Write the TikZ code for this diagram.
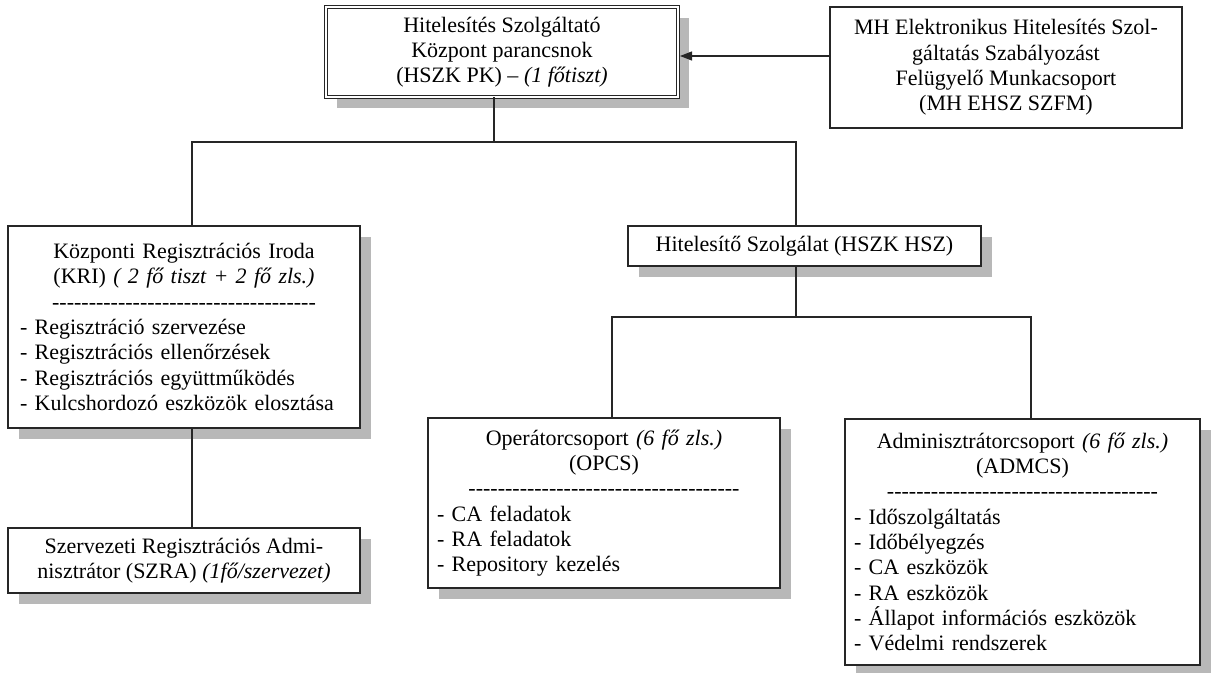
\documentclass[tikz,border=0pt]{standalone}
\usepackage{fontspec}
\setmainfont{Liberation Serif}
\usetikzlibrary{arrows.meta,shadows}
\newcommand\hyphrow[1]{\foreach \i in {1,...,#1}{-\kern0pt}}
\begin{document}
\begin{tikzpicture}[x=1pt,y=-1pt,
  box/.style={draw=black!85, line width=1.1pt, fill=white, inner ysep=0pt, outer sep=0pt,
    font=\fontsize{22}{25.3}\selectfont},
  shbox/.style={box, drop shadow={shadow xshift=11pt, shadow yshift=-11pt, fill=black!28, opacity=1}},
  conn/.style={draw=black!85, line width=1.1pt}]
\useasboundingbox (0,0) rectangle (1215,672);
% coordinates of connector lines
\coordinate (pkx) at (494,142);
\coordinate (krix) at (192,142);
\coordinate (hszx) at (796,142);
\coordinate (hszd) at (796,317);
\coordinate (opcsx) at (612,317);
\coordinate (admx) at (1031,317);
\coordinate (arr) at (760,56);
% boxes
\node[shbox, double, double distance=2.6pt, line width=0.9pt, minimum width=352pt, minimum height=90pt,
  align=center, inner xsep=8pt] (pk) at (502,52)
  {Hitelesítés Szolgáltató\\Központ parancsnok\\(HSZK PK) – \textit{(1 főtiszt)}};
\node[box, minimum width=352pt, minimum height=121pt, align=center] (mh) at (1006,67.5)
  {MH Elektronikus Hitelesítés Szol-\\gáltatás Szabályozást\\Felügyelő Munkacsoport\\(MH EHSZ SZFM)};
\node[shbox, minimum width=352pt, minimum height=202pt, text width=328pt, inner xsep=12pt] (kri) at (184,327)
  {\centering Központi Regisztrációs Iroda\\(KRI) \textit{( 2 fő tiszt + 2 fő zls.)}\\\hyphrow{36}\par
   \raggedright - Regisztráció szervezése\\- Regisztrációs ellenőrzések\\- Regisztrációs együttműködés\\- Kulcshordozó eszközök elosztása\par};
\node[shbox, minimum width=353pt, minimum height=40pt, align=center] (hsz) at (804.5,246)
  {Hitelesítő Szolgálat (HSZK HSZ)};
\node[shbox, minimum width=352pt, minimum height=170pt, text width=334pt, inner xsep=9pt] (opcs) at (604,503)
  {\centering Operátorcsoport \textit{(6 fő zls.)}\\(OPCS)\\\hyphrow{37}\par
   \raggedright - CA feladatok\\- RA feladatok\\- Repository kezelés\par};
\node[shbox, minimum width=355pt, minimum height=246pt, text width=337pt, inner xsep=9pt] (adm) at (1022.5,542)
  {\centering Adminisztrátorcsoport \textit{(6 fő zls.)}\\(ADMCS)\\\hyphrow{37}\par
   \raggedright - Időszolgáltatás\\- Időbélyegzés\\- CA eszközök\\- RA eszközök\\- Állapot információs eszközök\\- Védelmi rendszerek\par};
\node[shbox, minimum width=352pt, minimum height=65pt, align=center] (szra) at (184,560.5)
  {Szervezeti Regisztrációs Admi-\\nisztrátor (SZRA) \textit{(1fő/szervezet)}};
% connectors
\draw[conn] (pk.south -| pkx) -- (pkx);
\draw[conn] (kri.north -| krix) -- (krix) -- (hszx) -- (hsz.north -| hszx);
\draw[conn] (hsz.south -| hszd) -- (hszd);
\draw[conn] (opcs.north -| opcsx) -- (opcsx) -- (admx) -- (adm.north -| admx);
\draw[conn] (kri.south -| krix) -- (szra.north -| krix);
\draw[conn, -{Triangle[length=12pt,width=9pt]}] (mh.west |- arr) -- ([xshift=2pt]pk.east |- arr);
\end{tikzpicture}
\end{document}
